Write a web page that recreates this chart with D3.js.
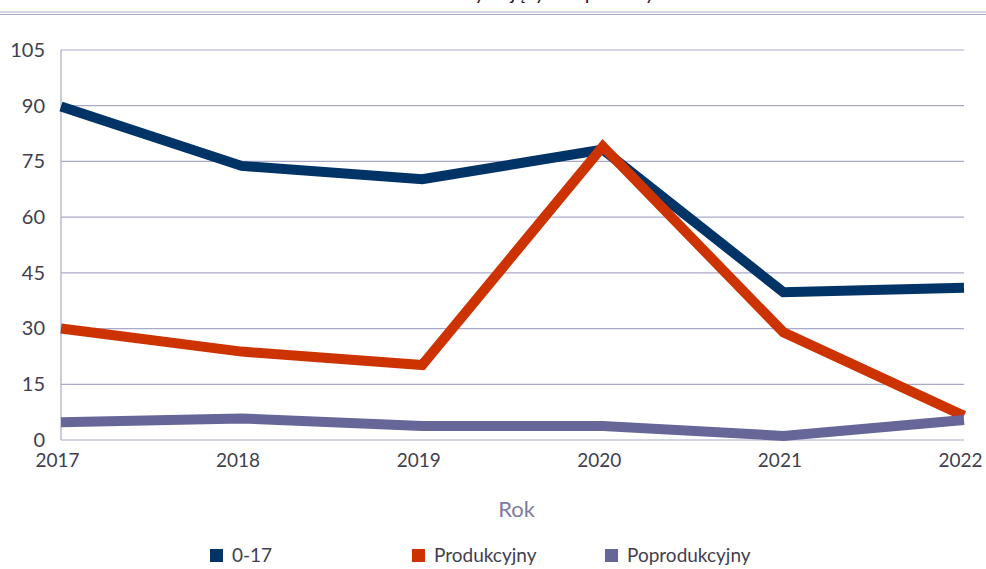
<!DOCTYPE html>
<html lang="pl">
  <head>
    <meta charset="UTF-8" />
    <title>Struktura wiekowa</title>
    <script src="https://d3js.org/d3.v7.min.js"></script>
    <style>
      body {
        margin: 0;
        background: #ffffff;
        font-family: Lato, "Open Sans", sans-serif;
      }
      .tick text {
        fill: #3f3f4f;
      }
    </style>
  </head>
  <body>
    <svg id="chart" width="986" height="569"></svg>
    <script>
      // dane
      const years = [2017, 2018, 2019, 2020, 2021, 2022];
      const grupa017 = [89.8, 73.8, 70.2, 78.2, 39.8, 41];
      const produkcyjny = [30, 23.8, 20.2, 79, 29, 6.5];
      const poprodukcyjny = [4.8, 5.8, 3.8, 3.8, 1.1, 5.4];
      const yTicks = [0, 15, 30, 45, 60, 75, 90, 105];

      const series = [
        { name: "0-17", values: grupa017, color: "#003366" },
        { name: "Produkcyjny", values: produkcyjny, color: "#cc3300" },
        { name: "Poprodukcyjny", values: poprodukcyjny, color: "#666699" },
      ];

      const margin = { top: 50, right: 22, bottom: 129, left: 61 },
        width = 986 - margin.left - margin.right,
        height = 569 - margin.top - margin.bottom;

      const svg = d3.select("#chart");

      // ucięty tytuł i podwójna linia u góry
      svg
        .append("text")
        .attr("x", 655)
        .attr("y", 0)
        .attr("text-anchor", "end")
        .attr("font-size", 20)
        .attr("fill", "#222")
        .text("Liczba osób korzystających z pomocy");

      svg.append("line").attr("x1", 0).attr("x2", 986).attr("y1", 12).attr("y2", 12)
        .attr("stroke", "#a8a8c8").attr("stroke-width", 1.2);
      svg.append("line").attr("x1", 0).attr("x2", 986).attr("y1", 14.5).attr("y2", 14.5)
        .attr("stroke", "#a8a8c8").attr("stroke-width", 1.2);

      const g = svg
        .append("g")
        .attr("transform", `translate(${margin.left},${margin.top})`);

      const x = d3.scaleLinear().domain([2017, 2022]).range([0, width]);
      const y = d3.scaleLinear().domain([0, 105]).range([height, 0]);

      // siatka
      g.selectAll(".grid")
        .data(yTicks)
        .enter()
        .append("line")
        .attr("x1", 0)
        .attr("x2", width)
        .attr("y1", (d) => y(d))
        .attr("y2", (d) => y(d))
        .attr("stroke", "#a9a9c9")
        .attr("stroke-width", 1.2);

      g.append("line")
        .attr("x1", 0).attr("x2", 0)
        .attr("y1", 0).attr("y2", height)
        .attr("stroke", "#a9a9c9")
        .attr("stroke-width", 1.2);

      // oś Y
      const yAxis = g
        .append("g")
        .call(d3.axisLeft(y).tickValues(yTicks).tickSize(0).tickPadding(16));
      yAxis.select(".domain").remove();
      yAxis.selectAll("text").attr("font-size", 20).attr("font-family", "Lato, sans-serif");

      // oś X
      const xAxis = g
        .append("g")
        .attr("transform", `translate(0,${height})`)
        .call(
          d3.axisBottom(x).tickValues(years).tickFormat(d3.format("d")).tickSize(0).tickPadding(14)
        );
      xAxis.select(".domain").remove();
      xAxis
        .selectAll("text")
        .attr("font-size", 19)
        .attr("dx", -4)
        .attr("font-family", "Lato, sans-serif");

      g.append("text")
        .attr("x", width / 2 + 4)
        .attr("y", height + 77)
        .attr("text-anchor", "middle")
        .attr("font-size", 22)
        .attr("fill", "#7b7ba3")
        .text("Rok");

      // linie
      const line = d3
        .line()
        .x((d, i) => x(years[i]))
        .y((d) => y(d));

      series.forEach((s) => {
        g.append("path")
          .datum(s.values)
          .attr("fill", "none")
          .attr("stroke", s.color)
          .attr("stroke-width", 10)
          .attr("stroke-linejoin", "miter")
          .attr("d", line);
      });

      // legenda
      const legendX = [210, 412, 605];
      const legend = svg
        .append("g")
        .selectAll("g")
        .data(series)
        .enter()
        .append("g")
        .attr("transform", (d, i) => `translate(${legendX[i]},555)`);

      legend
        .append("rect")
        .attr("x", 0)
        .attr("y", -6)
        .attr("width", 13)
        .attr("height", 13)
        .attr("fill", (d) => d.color);

      legend
        .append("text")
        .attr("x", 22)
        .attr("y", 7)
        .attr("font-size", 19)
        .attr("fill", "#3f3f4f")
        .text((d) => d.name);
    </script>
  </body>
</html>
